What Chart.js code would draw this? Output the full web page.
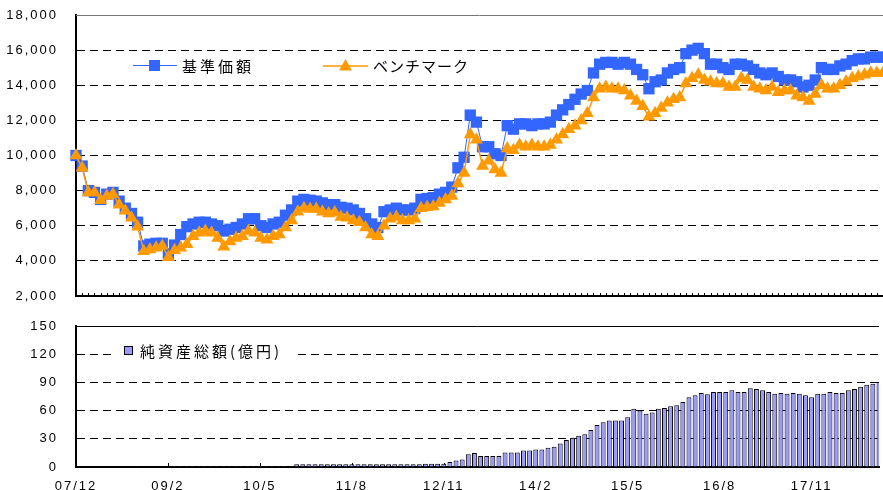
<!DOCTYPE html>
<html>
<head>
<meta charset="utf-8">
<script src="https://cdn.jsdelivr.net/npm/chart.js@4"></script>
<style>
  html, body { margin: 0; padding: 0; background: #fff; }
  #wrap { position: relative; width: 883px; height: 490px; overflow: hidden; }
  canvas { position: absolute; left: 0; }
  #price { top: 0; }
  #assets { top: 300px; }
</style>
</head>
<body>
<div id="wrap">
  <canvas id="price" width="883" height="310"></canvas>
  <canvas id="assets" width="883" height="190"></canvas>
</div>
<script>
// Month labels (first point = fund inception, also 07/12)
const categories = [
  '07/12', '07/12',
  '08/1', '08/2', '08/3', '08/4', '08/5', '08/6', '08/7', '08/8', '08/9', '08/10', '08/11', '08/12',
  '09/1', '09/2', '09/3', '09/4', '09/5', '09/6', '09/7', '09/8', '09/9', '09/10', '09/11', '09/12',
  '10/1', '10/2', '10/3', '10/4', '10/5', '10/6', '10/7', '10/8', '10/9', '10/10', '10/11', '10/12',
  '11/1', '11/2', '11/3', '11/4', '11/5', '11/6', '11/7', '11/8', '11/9', '11/10', '11/11', '11/12',
  '12/1', '12/2', '12/3', '12/4', '12/5', '12/6', '12/7', '12/8', '12/9', '12/10', '12/11', '12/12',
  '13/1', '13/2', '13/3', '13/4', '13/5', '13/6', '13/7', '13/8', '13/9', '13/10', '13/11', '13/12',
  '14/1', '14/2', '14/3', '14/4', '14/5', '14/6', '14/7', '14/8', '14/9', '14/10', '14/11', '14/12',
  '15/1', '15/2', '15/3', '15/4', '15/5', '15/6', '15/7', '15/8', '15/9', '15/10', '15/11', '15/12',
  '16/1', '16/2', '16/3', '16/4', '16/5', '16/6', '16/7', '16/8', '16/9', '16/10', '16/11', '16/12',
  '17/1', '17/2', '17/3', '17/4', '17/5', '17/6', '17/7', '17/8', '17/9', '17/10', '17/11', '17/12',
  '18/1', '18/2', '18/3', '18/4', '18/5', '18/6', '18/7', '18/8', '18/9', '18/10'
];

// Labels shown on the x axis
const tickLabels = ['07/12', '09/2', '10/5', '11/8', '12/11', '14/2', '15/5', '16/8', '17/11'];

// 基準価額
const navValues = [
  10000, 9400, 8000, 7900, 7500, 7800, 7900, 7400, 7000, 6700, 6200, 4850,
  4950, 5000, 5000, 4400, 4900, 5500, 5950, 6100, 6200, 6200, 6100, 6000,
  5700, 5800, 5900, 6100, 6400, 6400, 6000, 5900, 6100, 6200, 6600, 6900,
  7400, 7500, 7450, 7400, 7300, 7200, 7200, 7050, 7000, 6900, 6700, 6400,
  6100, 5900, 6800, 6900, 7000, 6900, 6900, 7000, 7500, 7550, 7600, 7800,
  7900, 8200, 9300, 9900, 12300, 11900, 10500, 10500, 10100, 10000, 11700, 11500,
  11800, 11800, 11700, 11800, 11800, 11900, 12300, 12600, 12900, 13200, 13500, 13700,
  14700, 15200, 15300, 15300, 15200, 15300, 15200, 14900, 14600, 13800, 14200, 14300,
  14700, 14900, 15000, 15800, 16000, 16100, 15800, 15200, 15200, 15000, 14900, 15200,
  15200, 15100, 14900, 14700, 14600, 14700, 14500, 14300, 14300, 14200, 13900, 14000,
  14300, 15000, 14900, 14900, 15100, 15200, 15400, 15500, 15500, 15600, 15600, 15600
];

// ベンチマーク
const benchValues = [
  10000, 9300, 7900, 7900, 7450, 7700, 7800, 7200, 6850, 6450, 5950, 4550,
  4650, 4750, 4850, 4200, 4600, 4750, 4950, 5400, 5600, 5700, 5600, 5300,
  4800, 5100, 5300, 5400, 5700, 5600, 5300, 5200, 5400, 5500, 5900, 6300,
  6800, 7000, 6950, 6950, 6800, 6700, 6750, 6500, 6450, 6300, 6200, 5900,
  5500, 5400, 6000, 6400, 6500, 6300, 6300, 6400, 7000, 7050, 7100, 7300,
  7500, 7700, 8400, 9000, 11200, 10900, 9400, 9700, 9200, 9000, 10400, 10300,
  10600, 10500, 10600, 10500, 10500, 10600, 10900, 11200, 11500, 11700, 12000, 12400,
  13300, 13800, 13900, 13800, 13800, 13700, 13400, 13100, 12800, 12200, 12400, 12700,
  13000, 13200, 13300, 14100, 14400, 14600, 14300, 14200, 14100, 14100, 13900, 13900,
  14400, 14300, 13900, 13800, 13700, 13900, 13600, 13700, 13700, 13400, 13300, 13100,
  13500, 14000, 13800, 13800, 14000, 14200, 14400, 14500, 14600, 14700, 14700, 14700
];

// 純資産総額(億円)
const assetValues = [
  0, 0, 0, 0, 0, 0, 0, 0, 0, 0, 0.8, 0,
  0, 0, 0, 0, 1, 1, 1, 1, 1, 1, 1, 1,
  1, 1, 1, 1, 1, 1, 1, 1, 1, 1, 1, 1,
  3, 3, 3, 3, 3, 3, 3, 3, 3, 3, 3, 3,
  3, 3, 3, 3, 3, 3, 3, 3, 3, 3.5, 3.5, 3.5,
  3.5, 5.4, 6.8, 7.9, 13.6, 15, 11.8, 11.8, 11.8, 11.8, 15.4, 15.4,
  15.4, 17.6, 17.6, 18.6, 18.6, 20.4, 21.5, 25, 28.7, 31.2, 33.3, 34.8,
  39.4, 44.8, 47.7, 49.5, 49.5, 49.5, 53, 62, 60.2, 56.6, 58, 62,
  62.7, 64.5, 65.6, 69.2, 74.2, 76.3, 78.8, 77.4, 79.9, 79.9, 79.9, 81.7,
  79.9, 79.9, 83.9, 83.1, 81.7, 79.9, 77.8, 78.8, 77.8, 78.8, 77.8, 76.3,
  74.2, 77.8, 77.8, 79.9, 78.8, 78.8, 81.7, 83.1, 85.3, 87.5, 88.5, 90.3
];

const BLUE = '#3366FF';
const ORANGE = '#FF9900';
const BAR = '#9999FF';
const AXIS_LEFT = 76;
const tickFont = { family: '"Liberation Sans", Arial, sans-serif', size: 13 };
const legendFont = '15px "Noto Sans CJK JP", sans-serif';

function showTick(i) {
  return tickLabels.includes(categories[i]) && categories[i] !== categories[i - 1];
}

// wider character spacing for the axis text
const spacing = {
  id: 'spacing',
  beforeDraw(chart) { chart.ctx.letterSpacing = '2px'; }
};

// top frame line and small tick marks standing inside the plot on the x axis
function frame(everyMonth, len, topColor) {
  return {
    id: 'frame',
    beforeDatasetsDraw(chart) {
      const { ctx, chartArea } = chart;
      const x = chart.scales.x;
      ctx.save();
      ctx.lineWidth = 1;
      ctx.strokeStyle = topColor;
      ctx.beginPath();
      ctx.moveTo(chartArea.left, chartArea.top + 0.5);
      ctx.lineTo(chartArea.right, chartArea.top + 0.5);
      ctx.stroke();
      ctx.strokeStyle = '#000';
      ctx.beginPath();
      categories.forEach((c, i) => {
        if (!everyMonth && !showTick(i)) return;
        const px = Math.round(x.getPixelForValue(i)) + 0.5;
        ctx.moveTo(px, chartArea.bottom);
        ctx.lineTo(px, chartArea.bottom - len);
      });
      ctx.stroke();
      ctx.restore();
    }
  };
}

function legendText(ctx, text, x, y, gap) {
  ctx.font = legendFont;
  ctx.fillStyle = '#000';
  ctx.textBaseline = 'middle';
  ctx.textAlign = 'left';
  ctx.letterSpacing = gap;
  ctx.fillText(text, x, y);
}

const priceLegend = {
  id: 'priceLegend',
  afterDraw(chart) {
    const ctx = chart.ctx;
    ctx.save();
    // 基準価額
    ctx.strokeStyle = BLUE;
    ctx.lineWidth = 1;
    ctx.beginPath();
    ctx.moveTo(133, 65.5);
    ctx.lineTo(177, 65.5);
    ctx.stroke();
    ctx.fillStyle = BLUE;
    ctx.fillRect(149, 60, 11, 11);
    legendText(ctx, '基準価額', 182, 66, '3px');
    // ベンチマーク
    ctx.strokeStyle = ORANGE;
    ctx.lineWidth = 1.5;
    ctx.beginPath();
    ctx.moveTo(323, 66);
    ctx.lineTo(368, 66);
    ctx.stroke();
    ctx.fillStyle = ORANGE;
    ctx.beginPath();
    ctx.moveTo(345.5, 59);
    ctx.lineTo(352, 70.5);
    ctx.lineTo(339, 70.5);
    ctx.closePath();
    ctx.fill();
    legendText(ctx, 'ベンチマーク', 373, 66, '1px');
    ctx.restore();
  }
};

const assetLegend = {
  id: 'assetLegend',
  afterDraw(chart) {
    const ctx = chart.ctx;
    ctx.save();
    ctx.fillStyle = '#fff';
    ctx.fillRect(116, 42, 182, 20);
    ctx.fillStyle = BAR;
    ctx.fillRect(124, 46, 9, 9);
    ctx.strokeStyle = '#000';
    ctx.lineWidth = 1;
    ctx.strokeRect(124.5, 46.5, 8, 8);
    legendText(ctx, '純資産総額(億円)', 140, 51, '3px');
    ctx.restore();
  }
};

const hideEdge = (lo, hi) => (c) =>
  (c.tick && (c.tick.value === lo || c.tick.value === hi)) ? 'rgba(0,0,0,0)' : '#000';

// y axis: invisible 16px tick marks push the labels left without adding vertical padding
const yGrid = (lo, hi) => ({
  color: hideEdge(lo, hi),
  lineWidth: 1,
  drawTicks: true,
  tickLength: 16,
  tickColor: 'rgba(0,0,0,0)'
});

// ---- price chart ----
new Chart(document.getElementById('price'), {
  type: 'line',
  data: {
    labels: categories,
    datasets: [
      {
        label: '基準価額',
        data: navValues,
        borderColor: BLUE,
        borderWidth: 1,
        pointStyle: 'rect',
        pointRadius: 8,
        pointBackgroundColor: BLUE,
        pointBorderWidth: 0,
        tension: 0,
        clip: false,
        order: 2
      },
      {
        label: 'ベンチマーク',
        data: benchValues,
        borderColor: ORANGE,
        borderWidth: 1.5,
        pointStyle: 'triangle',
        pointRadius: 7.5,
        pointBackgroundColor: ORANGE,
        pointBorderWidth: 0,
        tension: 0,
        clip: false,
        order: 1
      }
    ]
  },
  options: {
    responsive: false,
    animation: false,
    devicePixelRatio: 1,
    layout: { autoPadding: false, padding: { top: 15, right: 0, bottom: 0, left: 0 } },
    plugins: { legend: { display: false }, tooltip: { enabled: false } },
    scales: {
      x: {
        offset: false,
        grid: { display: false },
        border: { color: '#000', width: 2 },
        ticks: { display: false, autoSkip: false },
        afterFit: (s) => { s.height = 14; }
      },
      y: {
        min: 2000,
        max: 18000,
        ticks: {
          stepSize: 2000,
          font: tickFont,
          color: '#000',
          padding: 2,
          callback: (v) => v.toLocaleString('en-US')
        },
        grid: yGrid(2000, 18000),
        border: { color: '#000', width: 2, dash: [8, 5] },
        afterFit: (s) => { s.width = AXIS_LEFT; }
      }
    }
  },
  plugins: [spacing, frame(true, 3, '#777'), priceLegend]
});

// ---- net assets chart ----
new Chart(document.getElementById('assets'), {
  type: 'bar',
  data: {
    labels: categories,
    datasets: [{
      label: '純資産総額(億円)',
      data: assetValues,
      backgroundColor: BAR,
      borderColor: '#000',
      borderWidth: 1,
      barPercentage: 0.8,
      categoryPercentage: 1
    }]
  },
  options: {
    responsive: false,
    animation: false,
    devicePixelRatio: 1,
    layout: { autoPadding: false, padding: { top: 26, right: 0, bottom: 0, left: 0 } },
    plugins: { legend: { display: false }, tooltip: { enabled: false } },
    scales: {
      x: {
        offset: false,
        grid: { display: false },
        border: { color: '#000', width: 2 },
        ticks: {
          autoSkip: false,
          maxRotation: 0,
          minRotation: 0,
          font: tickFont,
          color: '#000',
          padding: 4,
          callback: (v, i) => showTick(i) ? categories[i] : ''
        },
        afterFit: (s) => { s.height = 23; }
      },
      y: {
        min: 0,
        max: 150,
        ticks: {
          stepSize: 30,
          font: tickFont,
          color: '#000',
          padding: 2
        },
        grid: yGrid(0, 150),
        border: { color: '#000', width: 2, dash: [8, 5] },
        afterFit: (s) => { s.width = AXIS_LEFT; }
      }
    }
  },
  plugins: [spacing, frame(false, 4, '#000'), assetLegend]
});
</script>
</body>
</html>
